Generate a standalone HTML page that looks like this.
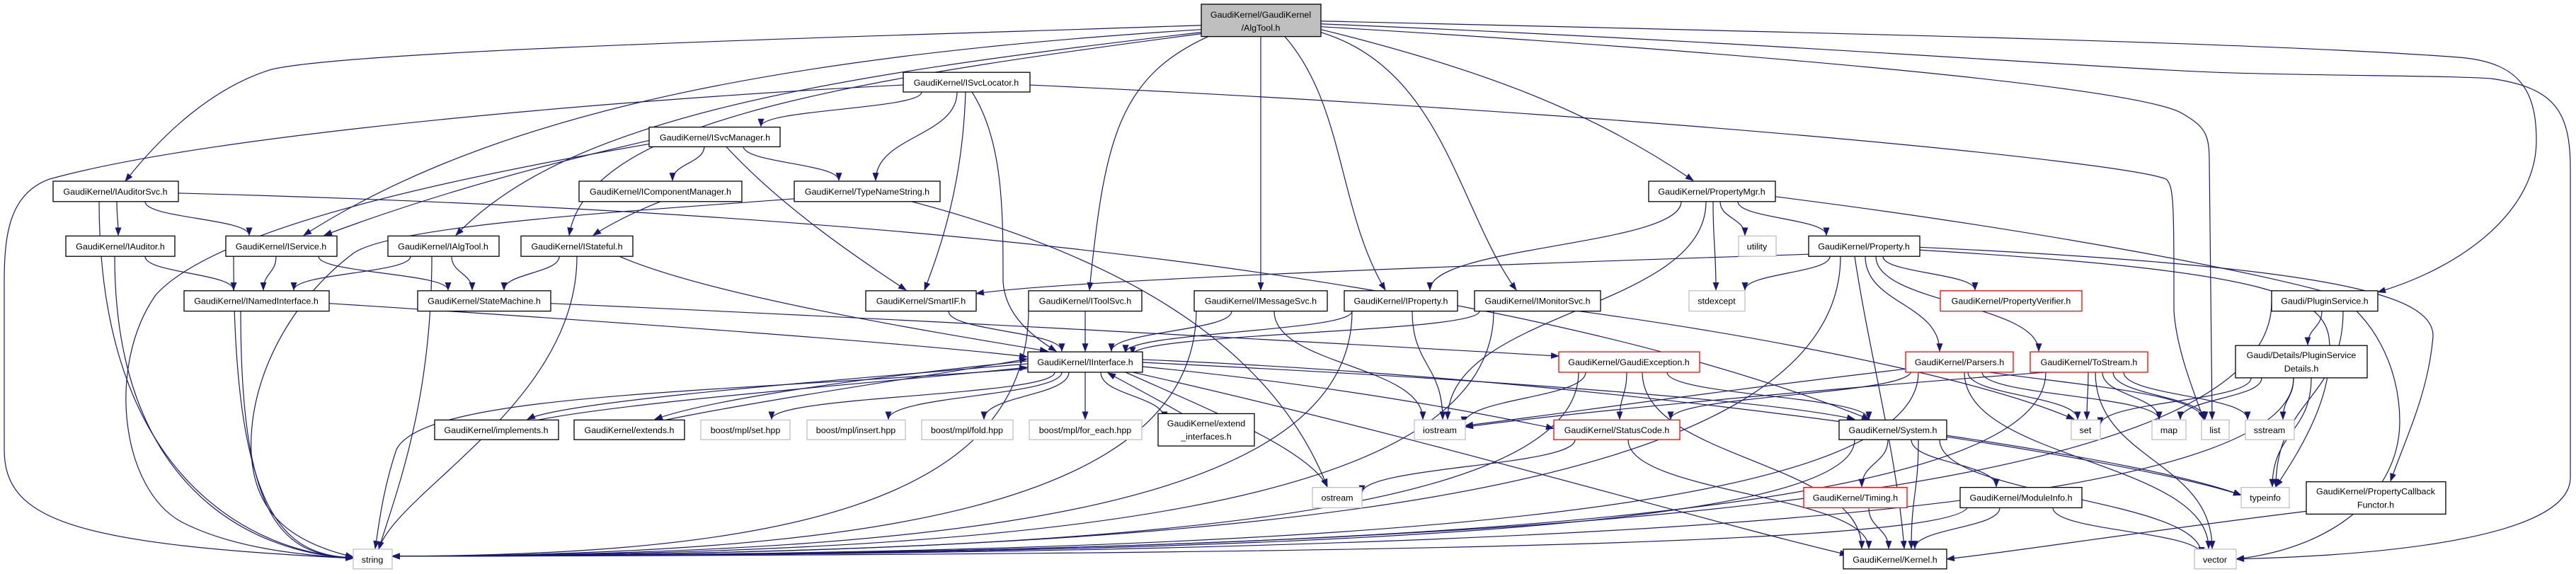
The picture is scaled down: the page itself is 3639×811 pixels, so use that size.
<!DOCTYPE html>
<html><head><meta charset="utf-8">
<style>
html,body{margin:0;padding:0;background:#fff;}
svg{display:block;}
text{font-family:"Liberation Sans",sans-serif;font-size:12.5px;fill:#000;text-anchor:middle;}
.n{fill:#fff;stroke:#000;stroke-width:1.3;}
.g{fill:#fff;stroke:#bfbfbf;stroke-width:1.3;}
.r{fill:#fff;stroke:#ff0000;stroke-width:1.3;}
.top{fill:#bfbfbf;stroke:#000;stroke-width:1.3;}
#edges path{fill:none;stroke:#191970;stroke-width:1.2;}
</style></head>
<body>
<svg id="s" width="3639" height="811" viewBox="0 0 3639 811" xmlns="http://www.w3.org/2000/svg">
<defs><marker id="a" markerWidth="12" markerHeight="9" refX="11" refY="4.5" orient="auto" markerUnits="userSpaceOnUse"><path d="M0,0 L12,4.5 L0,9 z" fill="#191970"/></marker></defs>
<g transform="scale(1,0.9923)">
<g id="edges"></g>
<g id="nodes">
<rect class="top" x="1697" y="6" width="169" height="46"/><text x="1781" y="25">GaudiKernel/GaudiKernel</text><text x="1781" y="44">/AlgTool.h</text>
<rect class="n" x="1276" y="103" width="179" height="28"/><text x="1365" y="122">GaudiKernel/ISvcLocator.h</text>
<rect class="n" x="917" y="181" width="185" height="28"/><text x="1010" y="200">GaudiKernel/ISvcManager.h</text>
<rect class="n" x="75" y="258" width="177" height="29"/><text x="163" y="277">GaudiKernel/IAuditorSvc.h</text>
<rect class="n" x="818" y="258" width="230" height="29"/><text x="933" y="277">GaudiKernel/IComponentManager.h</text>
<rect class="n" x="1122" y="258" width="206" height="29"/><text x="1225" y="277">GaudiKernel/TypeNameString.h</text>
<rect class="n" x="2329" y="258" width="179" height="29"/><text x="2418" y="277">GaudiKernel/PropertyMgr.h</text>
<rect class="n" x="93" y="336" width="154" height="29"/><text x="170" y="355">GaudiKernel/IAuditor.h</text>
<rect class="n" x="319" y="336" width="157" height="29"/><text x="397" y="355">GaudiKernel/IService.h</text>
<rect class="n" x="548" y="336" width="157" height="29"/><text x="626" y="355">GaudiKernel/IAlgTool.h</text>
<rect class="n" x="736" y="336" width="158" height="29"/><text x="815" y="355">GaudiKernel/IStateful.h</text>
<rect class="g" x="2456" y="336" width="53" height="29"/><text x="2482" y="355">utility</text>
<rect class="n" x="2555" y="336" width="157" height="29"/><text x="2633" y="355">GaudiKernel/Property.h</text>
<rect class="n" x="260" y="414" width="205" height="29"/><text x="362" y="433">GaudiKernel/INamedInterface.h</text>
<rect class="n" x="590" y="414" width="188" height="29"/><text x="684" y="433">GaudiKernel/StateMachine.h</text>
<rect class="n" x="1223" y="414" width="156" height="29"/><text x="1301" y="433">GaudiKernel/SmartIF.h</text>
<rect class="n" x="1453" y="414" width="160" height="29"/><text x="1533" y="433">GaudiKernel/IToolSvc.h</text>
<rect class="n" x="1687" y="414" width="188" height="29"/><text x="1781" y="433">GaudiKernel/IMessageSvc.h</text>
<rect class="n" x="1899" y="414" width="160" height="29"/><text x="1979" y="433">GaudiKernel/IProperty.h</text>
<rect class="n" x="2083" y="414" width="178" height="29"/><text x="2172" y="433">GaudiKernel/IMonitorSvc.h</text>
<rect class="g" x="2386" y="414" width="79" height="29"/><text x="2425" y="433">stdexcept</text>
<rect class="r" x="2741" y="414" width="200" height="29"/><text x="2841" y="433">GaudiKernel/PropertyVerifier.h</text>
<rect class="n" x="3209" y="414" width="150" height="29"/><text x="3284" y="433">Gaudi/PluginService.h</text>
<rect class="n" x="1452" y="501" width="162" height="29"/><text x="1533" y="520">GaudiKernel/IInterface.h</text>
<rect class="r" x="2202" y="501" width="199" height="29"/><text x="2301" y="520">GaudiKernel/GaudiException.h</text>
<rect class="r" x="2692" y="501" width="152" height="29"/><text x="2768" y="520">GaudiKernel/Parsers.h</text>
<rect class="r" x="2868" y="501" width="166" height="29"/><text x="2951" y="520">GaudiKernel/ToStream.h</text>
<rect class="n" x="3158" y="492" width="186" height="46"/><text x="3251" y="510">Gaudi/Details/PluginService</text><text x="3251" y="529">Details.h</text>
<rect class="n" x="614" y="598" width="175" height="28"/><text x="701" y="617">GaudiKernel/implements.h</text>
<rect class="n" x="811" y="598" width="156" height="28"/><text x="889" y="617">GaudiKernel/extends.h</text>
<rect class="g" x="990" y="598" width="126" height="28"/><text x="1053" y="617">boost/mpl/set.hpp</text>
<rect class="g" x="1140" y="598" width="139" height="28"/><text x="1209" y="617">boost/mpl/insert.hpp</text>
<rect class="g" x="1302" y="598" width="129" height="28"/><text x="1366" y="617">boost/mpl/fold.hpp</text>
<rect class="g" x="1454" y="598" width="159" height="28"/><text x="1533" y="617">boost/mpl/for_each.hpp</text>
<rect class="n" x="1636" y="589" width="136" height="46"/><text x="1704" y="607">GaudiKernel/extend</text><text x="1704" y="626">_interfaces.h</text>
<rect class="g" x="1998" y="598" width="72" height="28"/><text x="2034" y="617">iostream</text>
<rect class="r" x="2195" y="598" width="178" height="28"/><text x="2284" y="617">GaudiKernel/StatusCode.h</text>
<rect class="n" x="2598" y="598" width="152" height="28"/><text x="2674" y="617">GaudiKernel/System.h</text>
<rect class="g" x="2926" y="598" width="41" height="28"/><text x="2946" y="617">set</text>
<rect class="g" x="3040" y="598" width="48" height="28"/><text x="3064" y="617">map</text>
<rect class="g" x="3110" y="598" width="39" height="28"/><text x="3129" y="617">list</text>
<rect class="g" x="3172" y="598" width="69" height="28"/><text x="3206" y="617">sstream</text>
<rect class="g" x="1854" y="694" width="70" height="29"/><text x="1889" y="713">ostream</text>
<rect class="r" x="2548" y="694" width="146" height="29"/><text x="2621" y="713">GaudiKernel/Timing.h</text>
<rect class="n" x="2769" y="694" width="172" height="29"/><text x="2855" y="713">GaudiKernel/ModuleInfo.h</text>
<rect class="g" x="3166" y="694" width="68" height="29"/><text x="3200" y="713">typeinfo</text>
<rect class="n" x="3258" y="686" width="197" height="46"/><text x="3356" y="704">GaudiKernel/PropertyCallback</text><text x="3356" y="723">Functor.h</text>
<rect class="g" x="499" y="782" width="55" height="28"/><text x="526" y="801">string</text>
<rect class="n" x="2604" y="782" width="146" height="28"/><text x="2677" y="801">GaudiKernel/Kernel.h</text>
<rect class="g" x="3100" y="782" width="59" height="28"/><text x="3129" y="801">vector</text>
</g>
</g>
</svg>
<script>
(function(){
var P=[];
function c(x1,y1,x2,y2){var m=(y1+y2)/2;P.push("M"+x1+","+y1+" C"+x1+","+m+" "+x2+","+m+" "+x2+","+y2);}
function p(d){P.push(d);}
function s(x1,y1){
 if(x1<499){P.push("M"+x1+","+y1+" C"+x1+","+(y1+(796-y1)*0.85)+" 400,792 499,794");}
 else if(x1<900){P.push("M"+x1+","+y1+" C"+x1+","+(y1+(782-y1)*0.5)+" 560,700 535,782");}
 else{P.push("M"+x1+","+y1+" C"+x1+","+(y1+(790-y1)*0.8)+" "+(x1-(x1-554)*0.4)+",790 554,792");}
}
function k(x1,y1){P.push("M"+x1+","+y1+" C"+x1+","+(y1+(790-y1)*0.7)+" "+(x1-(x1-2750)*0.5)+",795 2750,796");}
p("M1697,36 C1300,50 500,70 383,99 C300,125 230,190 177,258");
p("M1276,121 C900,140 300,190 70,255 C15,275 6,330 6,400 L6,640 C6,740 100,775 499,795");
p("M1697,42 C1100,80 700,160 429,335");
p("M917,200 C700,250 550,300 458,335");
p("M1697,46 C1150,110 800,170 644,335");
p("M1697,48 C1150,120 830,180 804,335");
p("M933,287 C900,300 860,320 838,335");
p("M1707,52 C1580,110 1560,200 1539,413");
p("M1781,52 L1781,413");
p("M1815,52 C1900,150 1890,300 1957,413");
p("M1866,46 C2040,100 2060,300 2142,413");
p("M1866,42 C2100,100 2250,160 2392,257");
p("M1866,30 C2500,45 3200,60 3478,82 C3560,90 3583,130 3583,200 C3583,300 3480,380 3359,416");
p("M1866,34 C2500,60 3000,100 3161,104 C3300,108 3478,108 3520,112 C3610,125 3631,160 3631,240 L3631,680 C3631,760 3400,790 3159,796");
p("M1866,38 C2400,70 3000,120 3080,160 C3115,180 3121,190 3121,230 L3125,597");
p("M1455,121 C2300,160 3000,230 3060,255 C3071,265 3071,290 3071,443 C3075,500 3100,560 3113,597");
p("M2508,280 C2900,330 3200,390 3300,420 C3350,450 3390,520 3390,600 C3390,700 3300,780 3159,796");
c(1302,131,1075,180); c(1352,131,1237,257);
p("M1364,131 C1360,260 1330,350 1306,413");
p("M1373,131 C1417,200 1417,300 1417,401 C1420,450 1460,480 1492,500");
c(995,208,950,257); c(1050,208,1185,257);
p("M1025,208 C1100,290 1200,360 1280,413");
p("M917,205 C600,260 300,330 220,420 C150,520 170,700 260,745 C330,780 420,790 499,795");
p("M1122,283 C900,300 560,320 500,360 C420,420 360,520 355,620 C350,720 400,770 499,793");
p("M1288,287 C1600,370 1800,500 1875,693");
c(165,287,167,335); c(205,287,352,335); s(140,287);
p("M252,275 C1200,300 2100,380 2641,597");
c(205,365,330,413); s(162,365);
c(390,365,372,413); c(450,365,633,413); s(330,365);
c(580,365,415,413); c(638,365,667,413); s(610,365);
c(790,365,712,413); p("M875,365 C1000,420 1300,470 1480,500"); s(815,365);
p("M465,432 C900,460 1300,490 1451,508"); s(340,443);
p("M778,432 C1400,460 1900,490 2202,507");
c(1340,443,1500,500);
c(1533,443,1533,500); s(1453,440);
c(1740,443,1570,500); c(1800,443,2010,597); s(1690,440);
c(1910,443,1590,502); c(1995,443,2038,597); s(1910,443);
c(2090,443,1600,505); s(2110,443); p("M2230,443 C2500,480 2800,540 2930,597");
c(2375,287,2020,413); c(2410,287,2045,597); c(2420,287,2424,413); c(2430,287,2465,335); c(2455,287,2580,335);
p("M2555,362 C2000,380 1500,400 1379,418");
c(2585,365,2465,413); s(2600,365); c(2660,365,2790,413); c(2635,365,2740,500); c(2650,365,2880,500);
p("M2712,352 C3300,380 3440,420 3437,480 C3430,560 3400,620 3377,685");
p("M2712,356 C3200,385 3280,420 3290,480 C3300,560 3250,640 3215,693");
p("M2620,365 C2640,500 2680,650 2690,781");
p("M1451,518 C1200,540 800,570 745,597"); p("M760,598 C900,570 1300,540 1451,523");
p("M1451,514 C1200,540 1000,570 925,597"); p("M940,598 C1100,565 1350,530 1451,511");
c(1490,530,1090,597); c(1500,530,1255,597); c(1510,530,1390,597); c(1533,530,1533,597);
c(1555,530,1645,597); p("M1670,589 C1620,560 1590,545 1565,531");
p("M1590,530 C1700,580 1850,640 1875,693");
p("M1614,522 C1900,550 2100,590 2195,610");
p("M1614,516 C2100,540 2500,570 2620,597");
p("M1600,530 C2000,620 2400,740 2610,790");
p("M1614,512 C2300,540 3000,650 3166,705");
p("M1451,525 C1000,560 600,560 560,640 C540,700 535,750 530,781");
c(2240,530,2068,604); s(2230,530); c(2298,530,2288,597); c(2355,530,2640,597); c(2320,530,2630,781);
c(2225,626,1924,702); c(2300,626,2640,781);
c(2667,626,2630,693); c(2700,626,2820,693); c(2710,626,2700,781); s(2620,626); c(2740,626,3110,790);
p("M2750,620 C2950,650 3100,680 3166,705");
c(2640,723,2668,781);
c(2825,723,2705,781); c(2900,723,3110,790); s(2780,720);
c(2780,530,2935,597); c(2800,530,3050,597); p("M2810,530 C2950,550 3100,560 3115,597");
c(2775,530,3120,781); s(2710,530); c(2700,528,2360,597); p("M2695,525 C2400,560 2200,590 2070,606");
c(2950,530,2948,597); c(2970,530,3050,597); c(2985,530,3115,597); c(3000,530,3175,597);
c(2960,530,3125,781); s(2890,530); p("M2890,530 C2500,560 2200,590 2070,608");
c(3280,443,3260,491); c(3310,443,3215,693); s(3209,430);
c(3180,538,2967,605); c(3195,538,3080,597); c(3240,538,3225,597); c(3265,538,3210,693); s(3240,538);
p("M3258,728 C3000,760 2850,785 2750,796");
var g=document.getElementById("edges"),ns="http://www.w3.org/2000/svg";
P.forEach(function(d){var e=document.createElementNS(ns,"path");e.setAttribute("d",d);e.setAttribute("marker-end","url(#a)");g.appendChild(e);});
})();
</script>
</body></html>
